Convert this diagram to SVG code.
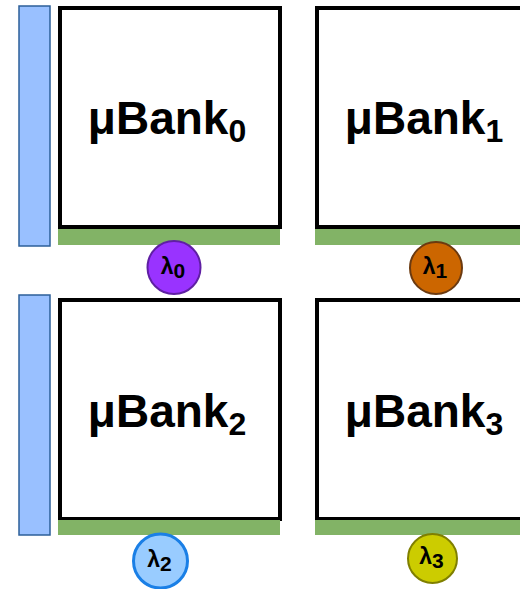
<svg xmlns="http://www.w3.org/2000/svg" width="520" height="589" viewBox="0 0 520 589">
<style>
.bar{fill:#99c0ff;stroke:#2d5f99;stroke-width:1.5}
.box{fill:#ffffff;stroke:#000000;stroke-width:4}
.green{fill:#82b366}
.lbl{font-family:"Liberation Sans",Arial,sans-serif;font-weight:bold;font-size:46px;fill:#000;text-anchor:middle}
.sub{font-size:32px}
.cl{font-family:"Liberation Sans",Arial,sans-serif;font-weight:bold;font-size:23px;fill:#000;text-anchor:middle}
.csub{font-size:21px}
</style>
<rect width="520" height="589" fill="#ffffff"/>
<g id="bar0"><rect class="bar" x="19" y="6" width="31" height="240"/></g>
<g id="bar1"><rect class="bar" x="19" y="295" width="31" height="240"/></g>
<g id="bank0">
<rect class="box" x="60" y="8" width="220" height="219"/>
<rect class="green" x="58" y="229" width="222" height="16"/>
<text class="lbl" x="167" y="134">μBank<tspan class="sub" dy="8">0</tspan></text>
</g>
<g id="bank1">
<rect class="box" x="317" y="8" width="220" height="219"/>
<rect class="green" x="315" y="229" width="210" height="16"/>
<text class="lbl" x="424" y="134">μBank<tspan class="sub" dy="8">1</tspan></text>
</g>
<g id="bank2">
<rect class="box" x="60" y="300" width="220" height="219"/>
<rect class="green" x="58" y="520" width="222" height="15"/>
<text class="lbl" x="167" y="427">μBank<tspan class="sub" dy="8">2</tspan></text>
</g>
<g id="bank3">
<rect class="box" x="317" y="300" width="220" height="219"/>
<rect class="green" x="315" y="520" width="210" height="15"/>
<text class="lbl" x="424" y="427">μBank<tspan class="sub" dy="8">3</tspan></text>
</g>
<g id="lambda0">
<circle cx="174" cy="267.5" r="26.5" fill="#9933ff" stroke="#5f1fa3" stroke-width="2"/>
<text class="cl" x="173" y="274">λ<tspan class="csub" dy="4">0</tspan></text>
</g>
<g id="lambda1">
<circle cx="436" cy="268" r="26" fill="#cc6600" stroke="#6b3a10" stroke-width="2"/>
<text class="cl" x="435" y="274">λ<tspan class="csub" dy="4">1</tspan></text>
</g>
<g id="lambda2">
<circle cx="160.5" cy="561" r="27" fill="#99ccff" stroke="#1a7fe6" stroke-width="3"/>
<text class="cl" x="159.5" y="567">λ<tspan class="csub" dy="4">2</tspan></text>
</g>
<g id="lambda3">
<circle cx="432.5" cy="558.5" r="24.5" fill="#cccc00" stroke="#7f7f00" stroke-width="2"/>
<text class="cl" x="431.5" y="564">λ<tspan class="csub" dy="4">3</tspan></text>
</g>
<g id="connectors"></g>
</svg>
